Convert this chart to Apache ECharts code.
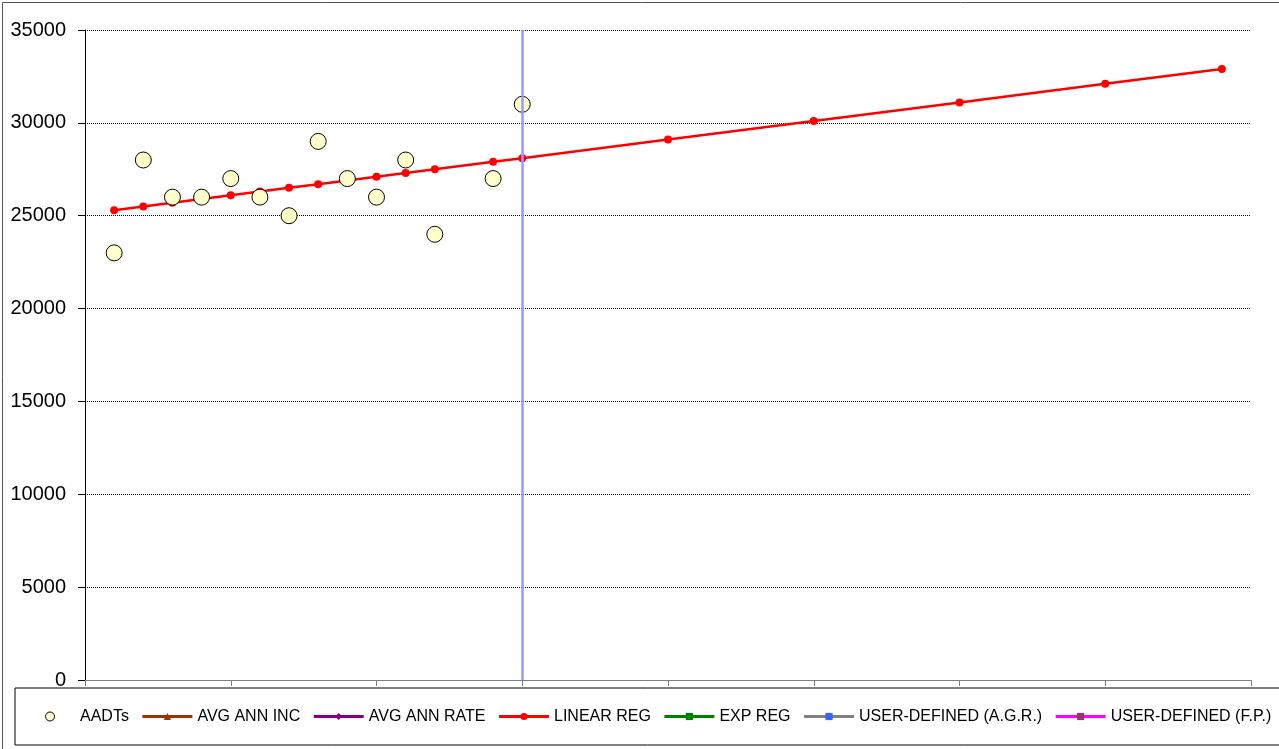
<!DOCTYPE html>
<html>
<head>
<meta charset="utf-8">
<script src="https://cdn.jsdelivr.net/npm/echarts@6/dist/echarts.min.js"></script>
<style>
html,body{margin:0;padding:0;background:#fff;}
#chart{width:1279px;height:749px;}
</style>
</head>
<body>
<div id="chart"></div>
<script>
// Data
const aadtYears = [1, 2, 3, 4, 5, 6, 7, 8, 9, 10, 11, 12, 14, 15];
const aadtValues = [23000, 28000, 26000, 26000, 27000, 26000, 25000, 29000, 27000, 26000, 28000, 24000, 27000, 31000];
const linYears = [1, 2, 3, 4, 5, 6, 7, 8, 9, 10, 11, 12, 14, 15, 20, 25, 30, 35, 39];
const linValues = [25300, 25500, 25700, 25900, 26100, 26300, 26500, 26700, 26900, 27100, 27300, 27500, 27900, 28100, 29100, 30100, 31100, 32100, 32900];
const currentYear = 15;
const seriesNames = ['AADTs', 'AVG ANN INC', 'AVG ANN RATE', 'LINEAR REG', 'EXP REG', 'USER-DEFINED (A.G.R.)', 'USER-DEFINED (F.P.)'];

const FONT = 'Arial, "Liberation Sans", sans-serif';
const chart = echarts.init(document.getElementById('chart'), null, {renderer: 'canvas'});

function pairs(xs, ys) { return xs.map((x, i) => [x, ys[i]]); }

function emptyLine(name, lineColor, markerColor, symbol) {
  return {
    name: name, type: 'line', data: [],
    symbol: symbol, symbolSize: 7,
    itemStyle: {color: markerColor},
    lineStyle: {color: lineColor, width: 3}
  };
}

const legendData = seriesNames.map(function (n) {
  return n === 'AADTs' ? {name: n, itemStyle: {borderWidth: 1, borderColor: '#000'}} : {name: n};
});

const option = {
  animation: false,
  backgroundColor: '#fff',
  textStyle: {fontFamily: FONT},
  graphic: [{
    type: 'rect', silent: true, z: -10,
    shape: {x: 2.5, y: 2.5, width: 1400, height: 900},
    style: {fill: 'none', stroke: '#555', lineWidth: 1}
  }],
  grid: {left: 85, right: 28, top: 30, bottom: 69},
  xAxis: {
    type: 'value', min: 0, max: 40, interval: 5,
    axisLine: {show: true, lineStyle: {color: '#808080', width: 1}},
    axisTick: {show: true, length: 6, lineStyle: {color: '#808080'}},
    axisLabel: {show: false},
    splitLine: {show: false}
  },
  yAxis: {
    type: 'value', min: 0, max: 35000, interval: 5000,
    axisLine: {show: true, lineStyle: {color: '#000', width: 1}},
    axisTick: {show: true, length: 7, lineStyle: {color: '#000'}},
    axisLabel: {color: '#000', fontSize: 20, fontFamily: FONT, margin: 19,
      formatter: function (v) { return String(v); }},
    splitLine: {show: true, lineStyle: {color: '#000', width: 1, type: [1, 1]}}
  },
  legend: {
    data: legendData,
    left: 15, top: 688, width: 1400,
    orient: 'horizontal',
    itemWidth: 50, itemHeight: 9, itemGap: 12,
    padding: [20, 14, 20, 30],
    borderColor: '#000', borderWidth: 1,
    lineStyle: {width: 3},
    textStyle: {color: '#000', fontSize: 16, fontFamily: FONT, lineHeight: 17},
    selectedMode: false
  },
  series: [
    {
      name: 'AADTs', type: 'scatter', z: 4,
      data: pairs(aadtYears, aadtValues),
      symbol: 'circle', symbolSize: 16,
      itemStyle: {color: '#ffffcc', borderColor: '#000', borderWidth: 1, opacity: 1}
    },
    emptyLine('AVG ANN INC', '#993300', '#993300', 'triangle'),
    emptyLine('AVG ANN RATE', '#800080', '#800080', 'diamond'),
    {
      name: 'LINEAR REG', type: 'line', z: 3,
      data: pairs(linYears, linValues),
      symbol: 'circle', symbolSize: 8, showSymbol: true,
      itemStyle: {color: '#ff0000'},
      lineStyle: {color: '#ff0000', width: 2.5}
    },
    emptyLine('EXP REG', '#008000', '#008000', 'rect'),
    emptyLine('USER-DEFINED (A.G.R.)', '#808080', '#3366ff', 'rect'),
    emptyLine('USER-DEFINED (F.P.)', '#ff00ff', '#993366', 'rect'),
    {
      name: 'current', type: 'line', data: [], z: 6,
      markLine: {
        silent: true, symbol: 'none', animation: false,
        label: {show: false},
        lineStyle: {color: '#9999ff', width: 2.5, type: 'solid'},
        data: [{xAxis: currentYear}]
      }
    }
  ]
};
chart.setOption(option);
</script>
</body>
</html>
